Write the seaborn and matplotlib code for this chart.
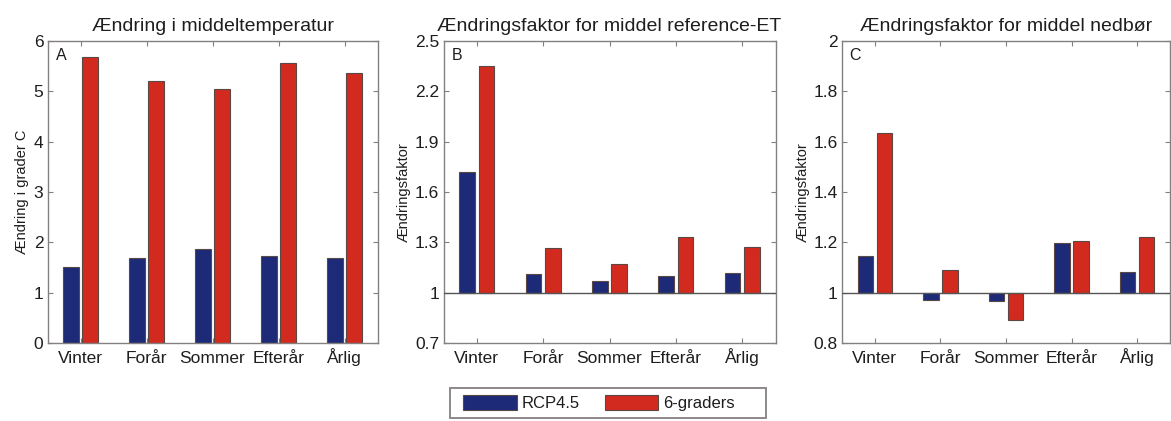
import numpy as np
import pandas as pd
import matplotlib
matplotlib.use("Agg")
import matplotlib.pyplot as plt
import seaborn as sns
from matplotlib.patches import Patch, Rectangle
from matplotlib.ticker import FixedLocator, FuncFormatter

# ---------------- data ----------------
seasons = ["Vinter", "Forår", "Sommer", "Efterår", "Årlig"]
scenarios = ["RCP4.5", "6-graders"]

temp_rcp45 = [1.51, 1.70, 1.87, 1.74, 1.70]
temp_6grad = [5.68, 5.20, 5.05, 5.55, 5.36]

et_rcp45 = [1.72, 1.115, 1.07, 1.10, 1.12]
et_6grad = [2.35, 1.265, 1.17, 1.33, 1.27]

prec_rcp45 = [1.148, 0.973, 0.969, 1.196, 1.083]
prec_6grad = [1.635, 1.09, 0.891, 1.204, 1.221]

titles = ["Ændring i middeltemperatur",
          "Ændringsfaktor for middel reference-ET",
          "Ændringsfaktor for middel nedbør"]
ylabels = ["Ændring i grader C", "Ændringsfaktor", "Ændringsfaktor"]
letters = ["A", "B", "C"]
ylims = [(0, 6), (0.7, 2.5), (0.8, 2.0)]
yticks = [[0, 1, 2, 3, 4, 5, 6],
          [0.7, 1.0, 1.3, 1.6, 1.9, 2.2, 2.5],
          [0.8, 1.0, 1.2, 1.4, 1.6, 1.8, 2.0]]
baselines = [0.0, 1.0, 1.0]

panels = [(temp_rcp45, temp_6grad), (et_rcp45, et_6grad), (prec_rcp45, prec_6grad)]

# ---------------- style ----------------
sns.set_style("white")
plt.rcParams["font.family"] = ["Liberation Sans", "DejaVu Sans"]
plt.rcParams["text.color"] = "#1e1e1e"
plt.rcParams["axes.labelcolor"] = "#1e1e1e"
plt.rcParams["xtick.color"] = "#1e1e1e"
plt.rcParams["ytick.color"] = "#1e1e1e"

blue = "#1c2a77"
red = "#d22a1f"
palette = {scenarios[0]: blue, scenarios[1]: red}
edge = "#5a4844"
frame = "#858080"

W, H = 1171, 421
fig = plt.figure(figsize=(W / 100, H / 100), dpi=100)

ax_px = [(47.5, 330), (443.5, 332), (842, 328)]
top_px, bot_px = 40.7, 343.3

for i, (rcp, g6) in enumerate(panels):
    left, width = ax_px[i]
    ax = fig.add_axes([left / W, 1 - bot_px / H, width / W, (bot_px - top_px) / H])
    df = pd.DataFrame({
        "Sæson": seasons * 2,
        "Scenarie": [scenarios[0]] * len(seasons) + [scenarios[1]] * len(seasons),
        "Værdi": list(rcp) + list(g6),
    })
    sns.barplot(data=df, x="Sæson", y="Værdi", hue="Scenarie", order=seasons,
                hue_order=scenarios, palette=palette, width=0.58, gap=0.19,
                edgecolor=edge, linewidth=0.8, saturation=1, legend=False,
                errorbar=None, ax=ax)
    base = baselines[i]
    for p in ax.patches:
        h = p.get_height()
        p.set_y(base)
        p.set_height(h - base)
    if base != 0:
        ax.axhline(base, color="#555555", lw=1.0, zorder=3)

    ax.set_xlim(-0.5, len(seasons) - 0.5)
    ax.set_ylim(*ylims[i])
    ax.yaxis.set_major_locator(FixedLocator(yticks[i]))
    ax.yaxis.set_major_formatter(FuncFormatter(lambda v, pos: f"{v:g}"))
    ax.set_xlabel("")
    ax.set_ylabel(ylabels[i], fontsize=10.5, labelpad=3)
    ax.set_title(titles[i], fontsize=14, pad=7)
    ax.tick_params(axis="both", which="both", direction="in", length=3.5,
                   width=0.8, color=frame, labelsize=12.5,
                   top=True, right=True, bottom=True, left=True)
    ax.tick_params(axis="x", pad=14.2)
    ax.tick_params(axis="y", pad=3)
    for lab in ax.get_xticklabels():
        lab.set_verticalalignment("baseline")
    for s in ax.spines.values():
        s.set_visible(True)
        s.set_color(frame)
        s.set_linewidth(1.0)
    ax.text(13.5 / width, 1 - 14.3 / (bot_px - top_px), letters[i],
            transform=ax.transAxes, ha="center", va="center", fontsize=11.5)

handles = [Patch(facecolor=palette[s], edgecolor=edge, linewidth=0.8) for s in scenarios]
leg = fig.legend(handles, scenarios, loc="center", bbox_to_anchor=(599 / W, 1 - 403 / H),
                 ncol=2, fontsize=12, frameon=False,
                 handlelength=3.2, handleheight=1.0, handletextpad=0.3,
                 columnspacing=1.5, borderpad=0.45)
fig.patches.append(Rectangle((450 / W, 1 - 418 / H), 316 / W, 30 / H,
                             transform=fig.transFigure, fill=False,
                             edgecolor=frame, linewidth=1.3))

fig.savefig("out.png", dpi=100)
